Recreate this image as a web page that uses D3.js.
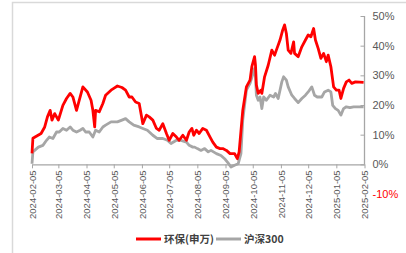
<!DOCTYPE html>
<html>
<head>
<meta charset="utf-8">
<script src="https://cdn.jsdelivr.net/npm/d3@7"></script>
<style>
  body { margin: 0; background: #fff; }
  svg { display: block; font-family: "Liberation Sans", "Noto Sans CJK SC", sans-serif; }
</style>
</head>
<body>
<div class="root"></div>
<script>
// 环保(申万) 累计涨跌幅, %
const redDates = ['2024-02-05','2024-02-06','2024-02-15','2024-02-19','2024-02-22','2024-02-25','2024-02-27','2024-03-01','2024-03-05','2024-03-10','2024-03-14','2024-03-18','2024-03-21','2024-03-25','2024-03-27','2024-04-01','2024-04-06','2024-04-10','2024-04-12','2024-04-14','2024-04-15','2024-04-19','2024-04-23','2024-04-26','2024-05-02','2024-05-05','2024-05-09','2024-05-14','2024-05-18','2024-05-22','2024-05-25','2024-05-29','2024-06-02','2024-06-06','2024-06-10','2024-06-13','2024-06-17','2024-06-21','2024-06-24','2024-06-28','2024-07-02','2024-07-05','2024-07-09','2024-07-13','2024-07-16','2024-07-20','2024-07-24','2024-07-27','2024-07-30','2024-08-01','2024-08-04','2024-08-07','2024-08-11','2024-08-15','2024-08-19','2024-08-22','2024-08-26','2024-08-30','2024-09-02','2024-09-06','2024-09-10','2024-09-15','2024-09-18','2024-09-20','2024-09-24','2024-09-28','2024-10-02','2024-10-04','2024-10-07','2024-10-08','2024-10-09','2024-10-11','2024-10-14','2024-10-15','2024-10-18','2024-10-22','2024-10-26','2024-10-29','2024-10-31','2024-11-04','2024-11-07','2024-11-09','2024-11-11','2024-11-13','2024-11-16','2024-11-19','2024-11-20','2024-11-24','2024-11-28','2024-12-02','2024-12-05','2024-12-08','2024-12-11','2024-12-13','2024-12-16','2024-12-19','2024-12-22','2024-12-25','2024-12-27','2024-12-30','2025-01-02','2025-01-05','2025-01-08','2025-01-10','2025-01-13','2025-01-16','2025-01-19','2025-01-22','2025-01-26','2025-02-04'];
const redValues = [3.7,8.8,10.4,12.6,16,18.2,14.9,17.1,14.9,19.9,22.2,23.9,22.7,18.2,20.5,26.1,24.4,21.6,18.2,12.6,18.2,17.7,20.5,23.3,25,25.6,26.4,25.9,25,22.7,22.7,21,20.5,13.7,16.6,16,14.9,12.1,11.5,13.7,10.4,8.1,10.4,9.2,8.1,9.8,8.1,10.9,12.1,9.8,11.5,10.4,12.1,11.5,9.2,7.5,5.8,5.3,5.3,4.7,3.6,3.6,1.9,4.2,18.2,26.1,28.4,32.9,36.3,33.4,26.7,23.9,25,23.9,29.5,33.4,38.5,36.8,38.5,41.9,45.3,47,44.1,38.5,37.4,41.3,37.4,36.3,39.6,41.9,43.6,43,45.8,41.9,39.1,35.7,37.4,34.6,36.8,32.9,26.1,25,25,22.2,25.6,27.8,28.4,27.3,27.8,27.6];

// 沪深300 累计涨跌幅, %
const greyDates = ['2024-02-05','2024-02-06','2024-02-12','2024-02-17','2024-02-21','2024-02-24','2024-02-28','2024-03-03','2024-03-06','2024-03-10','2024-03-14','2024-03-18','2024-03-21','2024-03-25','2024-03-29','2024-04-01','2024-04-04','2024-04-08','2024-04-12','2024-04-15','2024-04-19','2024-04-23','2024-04-26','2024-05-02','2024-05-09','2024-05-14','2024-05-18','2024-05-22','2024-05-27','2024-06-02','2024-06-06','2024-06-11','2024-06-17','2024-06-22','2024-06-28','2024-07-03','2024-07-07','2024-07-13','2024-07-18','2024-07-24','2024-07-27','2024-07-31','2024-08-02','2024-08-05','2024-08-09','2024-08-13','2024-08-17','2024-08-20','2024-08-26','2024-08-31','2024-09-04','2024-09-08','2024-09-11','2024-09-15','2024-09-19','2024-09-22','2024-09-24','2024-09-28','2024-10-02','2024-10-07','2024-10-08','2024-10-09','2024-10-11','2024-10-13','2024-10-15','2024-10-17','2024-10-20','2024-10-24','2024-10-28','2024-10-30','2024-11-02','2024-11-06','2024-11-08','2024-11-11','2024-11-13','2024-11-17','2024-11-20','2024-11-24','2024-11-28','2024-12-02','2024-12-05','2024-12-09','2024-12-12','2024-12-15','2024-12-20','2024-12-23','2024-12-27','2024-12-30','2025-01-01','2025-01-04','2025-01-07','2025-01-10','2025-01-13','2025-01-16','2025-01-20','2025-01-24','2025-01-29','2025-02-04'];
const greyValues = [0.2,4.2,5.8,6.4,8.1,9.2,8.7,10.9,10.9,12.1,11.5,12.6,11.5,10.9,11.5,12.1,10.9,10.9,9.2,11.5,10.9,12.6,13.2,14.3,14.3,14.9,15.4,14.3,13.2,12.6,12.1,11.5,9.8,8.7,8.7,8.1,7,8.1,8.1,7.5,6.4,5.8,5.8,5.3,4.7,5.3,4.2,4.7,3.6,3,1.9,0.4,-0.9,-0.3,0.2,3.6,14.9,25,27.3,32.3,29.5,23.3,21.6,22.7,18.8,22.7,21.6,23.3,22.7,23.9,22.2,27.8,29.5,28.4,26.1,23.3,22.2,20.8,22.2,23.3,24.4,26.1,23.3,22.7,22.7,24.4,25,24.4,19.9,18.8,18.2,16.6,18.8,19.4,19.1,19.4,19.4,19.4];

const xTickLabels = ['2024-02-05','2024-03-05','2024-04-05','2024-05-05','2024-06-05','2024-07-05','2024-08-05','2024-09-05','2024-10-05','2024-11-05','2024-12-05','2025-01-05','2025-02-05'];
const yTicks = [-10, 0, 10, 20, 30, 40, 50];
const seriesNames = ['环保(申万)', '沪深300'];

const svgWidth = 406;
const svgHeight = 253;

const svg = d3.select('.root')
  .append('svg')
  .attr('width', svgWidth)
  .attr('height', svgHeight);

// outer frame
svg.append('rect')
  .attr('x', 12.5)
  .attr('y', 2.5)
  .attr('width', 400)
  .attr('height', 260)
  .attr('fill', 'none')
  .attr('stroke', '#d9d9d9')
  .attr('stroke-width', 1.5);

const parseTime = d3.timeParse('%Y-%m-%d');

const x = d3.scaleTime()
  .domain([parseTime(xTickLabels[0]), parseTime(xTickLabels[xTickLabels.length - 1])])
  .range([32, 364.5]);
const y = d3.scaleLinear().domain([-10, 50]).range([194, 16]);

const axisColor = '#a6a6a6';
const textColor = '#595959';

// x axis at 0%
const xAxis = svg.append('g')
  .attr('transform', `translate(0,${y(0)})`)
  .call(d3.axisBottom(x)
    .tickValues(xTickLabels.map(parseTime))
    .tickFormat(d3.timeFormat('%Y-%m-%d'))
    .tickSize(4)
    .tickSizeOuter(0));
xAxis.select('.domain').attr('stroke', axisColor).attr('stroke-width', 1.3);
xAxis.selectAll('.tick line').attr('stroke', axisColor);
xAxis.selectAll('.tick text')
  .attr('fill', textColor)
  .attr('font-size', 9.5)
  .attr('transform', 'rotate(-90)')
  .attr('text-anchor', 'end')
  .attr('x', -6)
  .attr('y', 0)
  .attr('dy', '0.35em');

// right y axis
const yAxis = svg.append('g')
  .attr('transform', `translate(${x.range()[1]},0)`)
  .call(d3.axisRight(y)
    .tickValues(yTicks)
    .tickFormat(d => d + '%')
    .tickSizeInner(-4)
    .tickSizeOuter(0)
    .tickPadding(8));
yAxis.select('.domain')
  .attr('d', `M0,${y(50)}V${y(0)}`)
  .attr('stroke', axisColor)
  .attr('stroke-width', 1.3);
yAxis.selectAll('.tick line')
  .attr('stroke', axisColor)
  .attr('display', d => d < 0 ? 'none' : null);
yAxis.selectAll('.tick text')
  .attr('fill', d => d < 0 ? '#ff0000' : textColor)
  .attr('font-size', 11);

const line = d3.line()
  .x(d => x(d.date))
  .y(d => y(d.value));

const series = [
  { name: seriesNames[1], color: '#a6a6a6', values: greyDates.map((d, i) => ({ date: parseTime(d), value: greyValues[i] })) },
  { name: seriesNames[0], color: '#ff0000', values: redDates.map((d, i) => ({ date: parseTime(d), value: redValues[i] })) }
];

svg.selectAll('.series')
  .data(series)
  .enter()
  .append('path')
  .attr('class', 'series')
  .attr('fill', 'none')
  .attr('stroke', d => d.color)
  .attr('stroke-width', 2.8)
  .attr('stroke-linejoin', 'round')
  .attr('d', d => line(d.values));

// legend
const legend = [
  { name: seriesNames[0], color: '#ff0000', x: 136 },
  { name: seriesNames[1], color: '#a6a6a6', x: 216 }
];
const lg = svg.selectAll('.legend')
  .data(legend)
  .enter()
  .append('g')
  .attr('class', 'legend')
  .attr('transform', d => `translate(${d.x},239)`);
lg.append('line')
  .attr('x1', 0).attr('x2', 25)
  .attr('stroke', d => d.color)
  .attr('stroke-width', 3);
lg.append('text')
  .attr('x', 28)
  .attr('dy', '0.35em')
  .attr('font-size', 10.5)
  .attr('font-weight', 'bold')
  .attr('fill', '#404040')
  .attr('font-family', '"Noto Sans CJK SC", sans-serif')
  .text(d => d.name);
</script>
</body>
</html>
